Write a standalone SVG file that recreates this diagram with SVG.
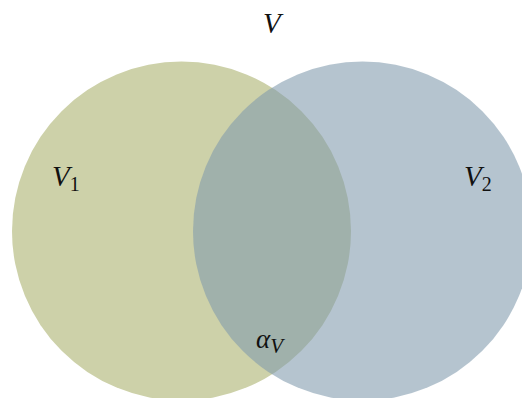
<svg xmlns="http://www.w3.org/2000/svg" width="522" height="398" viewBox="0 0 522 398">
<style>
.m{font-family:"Liberation Serif","DejaVu Serif",serif;font-style:italic;fill:#111;}
.sub{font-style:normal;}
</style>
<rect width="522" height="398" fill="#ffffff"/>
<g id="V1set"><circle cx="181.5" cy="231" r="169.5" fill="#cdd1a9"/></g>
<g id="V2set"><circle cx="362.5" cy="231" r="169.5" fill="#7f99ac" fill-opacity="0.58"/></g>
<g id="labels">
<text class="m" x="263" y="33" font-size="29">V</text>
<text class="m" x="52" y="186" font-size="29">V<tspan class="sub" font-size="20" dy="5">1</tspan></text>
<text class="m" x="464" y="186" font-size="29">V<tspan class="sub" font-size="20" dy="5">2</tspan></text>
<text class="m" x="256" y="348" font-size="27">α<tspan font-size="21" dy="5">V</tspan></text>
</g>
</svg>
